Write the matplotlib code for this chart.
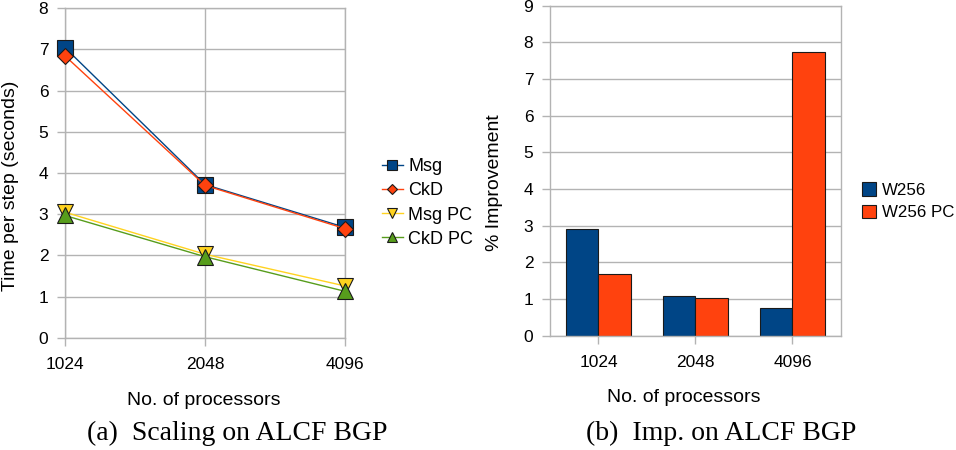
import matplotlib.pyplot as plt
from matplotlib.patches import Patch
import numpy as np

# Datos
procesadores = ['1024', '2048', '4096']
msg = [7.04, 3.72, 2.68]
ckd = [6.84, 3.70, 2.65]
msg_pc = [3.05, 2.03, 1.26]
ckd_pc = [2.97, 1.97, 1.13]

w256 = [2.92, 1.08, 0.75]
w256_pc = [1.68, 1.02, 7.75]

AZUL = '#004586'
NARANJA = '#ff420e'
AMARILLO = '#ffd320'
VERDE = '#579d1c'
GRIS = '#b3b3b3'
BORDE = '#1a1a1a'

plt.rcParams['font.family'] = ['Liberation Sans', 'DejaVu Sans']

fig = plt.figure(figsize=(9.56, 4.5), dpi=100)

# (a) escalado
ax1 = fig.add_axes([0.068, 0.249, 0.293, 0.733])
x = np.arange(len(procesadores))
series = [
    ('Msg', msg, AZUL, 's', 12),
    ('CkD', ckd, NARANJA, 'D', 8),
    ('Msg PC', msg_pc, AMARILLO, 'v', 11),
    ('CkD PC', ckd_pc, VERDE, '^', 11),
]
for nombre, valores, color, marcador, tam in series:
    ax1.plot(x, valores, color=color, lw=1, marker=marcador, markersize=tam,
             markerfacecolor=color, markeredgecolor=BORDE, markeredgewidth=0.8,
             label=nombre, clip_on=False, zorder=3)
ax1.set_xlim(0, 2)
ax1.set_ylim(0, 8)
ax1.set_xticks(x)
ax1.set_xticklabels(procesadores)
ax1.set_yticks(range(0, 9))
ax1.grid(True, color=GRIS, lw=1)
ax1.set_axisbelow(True)
ax1.set_ylabel('Time per step (seconds)', fontsize=14)
ax1.set_xlabel('No. of processors', fontsize=14)
ax1.yaxis.set_label_coords(-0.164, 0.46)
ax1.xaxis.set_label_coords(0.495, -0.163)
fig.legend(*ax1.get_legend_handles_labels(), loc='center left',
           bbox_to_anchor=(0.3996, 0.549), frameon=False, fontsize=13,
           borderpad=0, borderaxespad=0, handlelength=1.15, markerscale=0.65,
           handletextpad=0.3, labelspacing=0.4)

# (b) mejora
ax2 = fig.add_axes([0.5753, 0.254, 0.3044, 0.7333])
ancho = 0.34
ax2.bar(x - ancho / 2, w256, ancho, color=AZUL, edgecolor=BORDE, lw=0.8, label='W256')
ax2.bar(x + ancho / 2, w256_pc, ancho, color=NARANJA, edgecolor=BORDE, lw=0.8, label='W256 PC')
ax2.set_xlim(-0.5, 2.5)
ax2.set_ylim(0, 9)
ax2.set_xticks(x)
ax2.set_xticklabels(procesadores)
ax2.set_yticks(range(0, 10))
ax2.grid(True, axis='y', color=GRIS, lw=1)
ax2.set_axisbelow(True)
ax2.set_ylabel('% Improvement', fontsize=14)
ax2.set_xlabel('No. of processors', fontsize=14)
ax2.yaxis.set_label_coords(-0.16, 0.463)
ax2.xaxis.set_label_coords(0.459, -0.161)
fig.legend(handles=[Patch(facecolor=AZUL, edgecolor=BORDE, lw=0.8, label='W256'),
                    Patch(facecolor=NARANJA, edgecolor=BORDE, lw=0.8, label='W256 PC')],
           loc='center left', bbox_to_anchor=(0.9017, 0.5525), frameon=False,
           fontsize=12.2, borderpad=0, borderaxespad=0, handlelength=0.85,
           handleheight=0.85, handletextpad=0.3, labelspacing=0.4)

for ax in (ax1, ax2):
    for lado in ax.spines.values():
        lado.set_color(GRIS)
        lado.set_linewidth(1)
    ax.tick_params(axis='both', color=GRIS, length=6, width=1, labelsize=12.5,
                   labelcolor='black')
    ax.tick_params(axis='x', pad=8)
    ax.tick_params(axis='y', pad=6)

# subtítulos
fig.text(237.5 / 956, 1 - 433 / 450, '(a)  Scaling on ALCF BGP', ha='center', va='center',
         fontsize=20, family=['Liberation Serif', 'DejaVu Serif'])
fig.text(721 / 956, 1 - 433 / 450, '(b)  Imp. on ALCF BGP', ha='center', va='center',
         fontsize=20, family=['Liberation Serif', 'DejaVu Serif'])

fig.savefig('out.png', dpi=100)
